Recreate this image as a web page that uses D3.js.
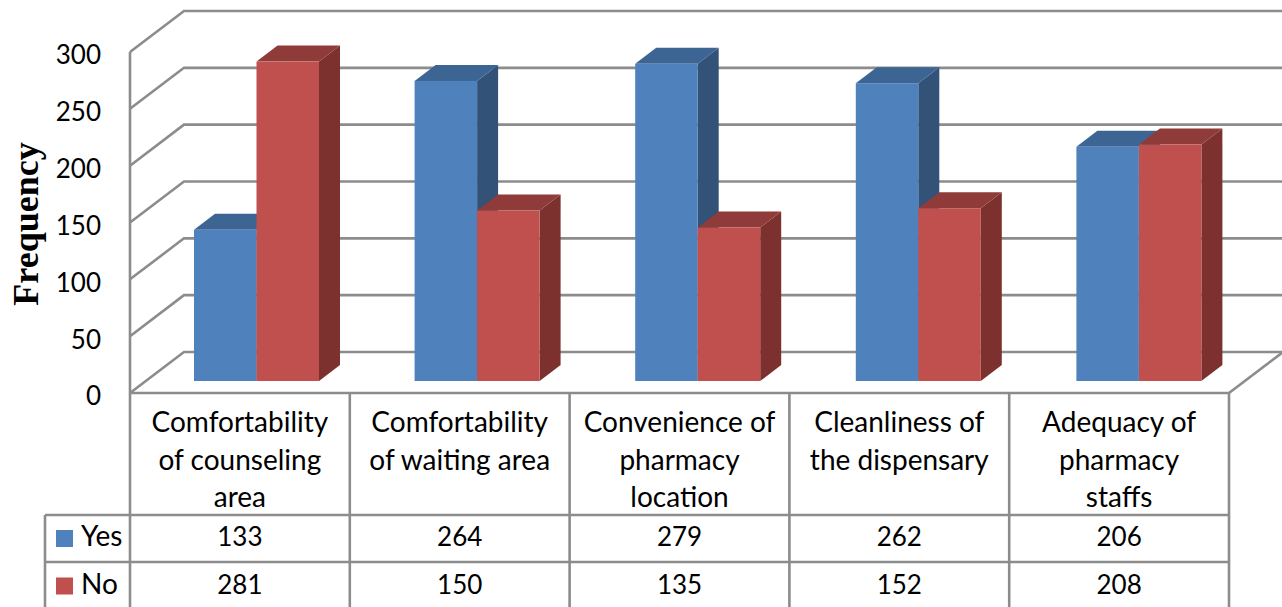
<!DOCTYPE html>
<html>
<head>
<meta charset="utf-8">
<script src="https://cdn.jsdelivr.net/npm/d3@7"></script>
<style>
  html, body { margin: 0; padding: 0; background: #fff; overflow: hidden; }
  svg { display: block; }
  text { fill: #000; font-family: Lato, "Open Sans", sans-serif; }
</style>
</head>
<body>
<div id="chart"></div>
<script>
const categories = [
  ['Comfortability', 'of counseling', 'area'],
  ['Comfortability', 'of waiting area'],
  ['Convenience of', 'pharmacy', 'location'],
  ['Cleanliness of', 'the dispensary'],
  ['Adequacy of', 'pharmacy', 'staffs']
];
const seriesNames = ['Yes', 'No'];
const yesValues = [133, 264, 279, 262, 206];
const noValues = [281, 150, 135, 152, 208];
const yTicks = [0, 50, 100, 150, 200, 250, 300];

const W = 1282, H = 607;
const GRID = '#8c8c8c';
const colors = {
  Yes: { front: '#4f81bd', top: '#3d6594', side: '#325277' },
  No: { front: '#c0504d', top: '#8e3b39', side: '#7d312f' }
};
const values = { Yes: yesValues, No: noValues };

const svg = d3.select('#chart').append('svg').attr('width', W).attr('height', H);

const y = d3.scaleLinear().domain([0, 300]).range([393, 52]);
const x0 = d3.scaleBand().domain(d3.range(categories.length)).range([130, 1229]);
// the bars sit on a slightly wider band than the table columns
const xBars = d3.scaleBand().domain(d3.range(categories.length)).range([130, 1233]);
const x1 = d3.scaleBand().domain(seriesNames).range([64, 189]);

// wall depth and bar depth offsets
const wall = { dx: 54, dy: -41 };
const barOff = { dx: 0, dy: -12 };
const barD = { dx: 21, dy: -16 };

// floor + back wall
const grid = svg.append('g').attr('fill', 'none').attr('stroke', GRID).attr('stroke-width', 2.6);
yTicks.forEach(t => {
  grid.append('polyline').attr('points', [
    [x0.range()[0], y(t)],
    [x0.range()[0] + wall.dx, y(t) + wall.dy],
    [W + 10, y(t) + wall.dy]
  ].join(' '));
});
grid.append('line')
  .attr('x1', x0.range()[1]).attr('y1', y(0))
  .attr('x2', x0.range()[1] + wall.dx).attr('y2', y(0) + wall.dy);
grid.append('line')
  .attr('x1', 130).attr('y1', y(300)).attr('x2', 130).attr('y2', y(0));

// bars
const bars = svg.append('g');
categories.forEach((c, i) => {
  seriesNames.forEach(s => {
    const col = colors[s];
    const left = xBars(i) + x1(s) + barOff.dx;
    const right = left + x1.bandwidth();
    const base = y(0) + barOff.dy;
    const top = y(values[s][i]) + barOff.dy;
    const g = bars.append('g').datum(values[s][i]);
    g.append('polygon').attr('fill', col.side).attr('points', [
      [right, top], [right + barD.dx, top + barD.dy],
      [right + barD.dx, base + barD.dy], [right, base]
    ].join(' '));
    g.append('polygon').attr('fill', col.top).attr('points', [
      [left, top], [left + barD.dx, top + barD.dy],
      [right + barD.dx, top + barD.dy], [right, top]
    ].join(' '));
    g.append('rect').attr('fill', col.front)
      .attr('x', left).attr('y', top)
      .attr('width', x1.bandwidth()).attr('height', base - top);
  });
});

// y axis labels
const axis = svg.append('g').attr('transform', 'translate(101,0)')
  .call(d3.axisLeft(y).tickValues(yTicks).tickSize(0).tickPadding(0));
axis.select('.domain').remove();
axis.selectAll('text').attr('font-size', 26).attr('font-family', 'Lato, sans-serif').attr('dy', '0.46em');

svg.append('text')
  .attr('transform', 'translate(38,224) rotate(-90)')
  .attr('text-anchor', 'middle')
  .style('font-family', '"Liberation Serif", serif')
  .style('font-weight', 'bold')
  .style('font-size', '36px')
  .text('Frequency');

// data table
const rows = [393, 515, 562];
const bottom = H + 10;
const table = svg.append('g').attr('stroke', GRID).attr('stroke-width', 2.6);
table.append('line').attr('x1', 130).attr('x2', 1229).attr('y1', rows[0]).attr('y2', rows[0]);
table.append('line').attr('x1', 45).attr('x2', 1229).attr('y1', rows[1]).attr('y2', rows[1]);
table.append('line').attr('x1', 45).attr('x2', 1229).attr('y1', rows[2]).attr('y2', rows[2]);
table.append('line').attr('x1', 45).attr('x2', 45).attr('y1', rows[1]).attr('y2', bottom);
d3.range(categories.length + 1).forEach(i => {
  const x = i < categories.length ? x0(i) : x0.range()[1];
  table.append('line').attr('x1', x).attr('x2', x).attr('y1', rows[0]).attr('y2', bottom);
});

categories.forEach((lines, i) => {
  const cx = x0(i) + x0.bandwidth() / 2;
  lines.forEach((l, k) => {
    svg.append('text').attr('x', cx).attr('y', 432 + k * 37.5)
      .attr('text-anchor', 'middle').attr('font-size', 28).text(l);
  });
  seriesNames.forEach((s, k) => {
    svg.append('text').attr('x', cx).attr('y', 546 + k * 47.5)
      .attr('text-anchor', 'middle').attr('font-size', 26).text(values[s][i]);
  });
});

seriesNames.forEach((s, k) => {
  const ry = 530 + k * 47.5;
  svg.append('rect').attr('x', 56).attr('y', ry).attr('width', 17).attr('height', 17)
    .attr('fill', colors[s].front);
  svg.append('text').attr('x', 81).attr('y', 546 + k * 47.5).attr('font-size', 28).text(s);
});
</script>
</body>
</html>
